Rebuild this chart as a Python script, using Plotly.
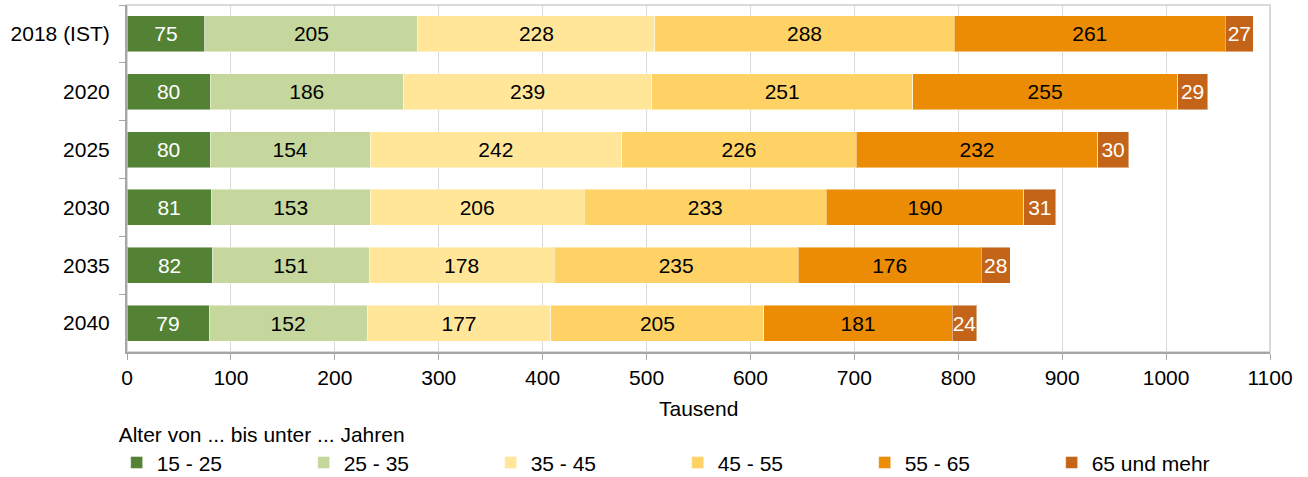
import plotly.graph_objects as go

# Erwerbsfähige Bevölkerung nach Altersgruppen (Tausend)
years = ["2018 (IST)", "2020", "2025", "2030", "2035", "2040"]
age_groups = ["15 - 25", "25 - 35", "35 - 45", "45 - 55", "55 - 65", "65 und mehr"]

age_15_25 = [75, 80, 80, 81, 82, 79]
age_25_35 = [205, 186, 154, 153, 151, 152]
age_35_45 = [228, 239, 242, 206, 178, 177]
age_45_55 = [288, 251, 226, 233, 235, 205]
age_55_65 = [261, 255, 232, 190, 176, 181]
age_65_plus = [27, 29, 30, 31, 28, 24]

series = [age_15_25, age_25_35, age_35_45, age_45_55, age_55_65, age_65_plus]
colors = ["#548235", "#C5D79D", "#FFE699", "#FFD266", "#EB8C04", "#C36418"]
label_colors = ["white", "black", "black", "black", "black", "white"]

FONT = "Arial, Liberation Sans, sans-serif"
FS = 21

fig = go.Figure()
for name, vals, col, tcol in zip(age_groups, series, colors, label_colors):
    fig.add_trace(go.Bar(
        y=years, x=vals, name=name, orientation="h",
        marker=dict(color=col, line=dict(color="rgba(255,255,255,0.45)", width=1)),
        text=vals, texttemplate="%{x}", textposition="inside",
        insidetextanchor="middle", constraintext="none", textangle=0,
        textfont=dict(color=tcol, size=FS, family=FONT),
        hoverinfo="x+name",
    ))

fig.update_layout(
    barmode="stack",
    bargap=0.38,
    width=1308, height=477,
    margin=dict(l=127, r=38, t=5, b=125, autoexpand=False),
    paper_bgcolor="white", plot_bgcolor="white",
    font=dict(family=FONT, size=FS, color="black"),
    uniformtext=dict(minsize=FS, mode="show"),
    xaxis=dict(
        range=[0, 1100], dtick=100, tick0=0,
        showgrid=True, gridcolor="#D9D9D9", gridwidth=1,
        showline=True, linecolor="#A6A6A6", linewidth=2,
        ticks="outside", ticklen=6, tickcolor="#A6A6A6", tickwidth=1,
        zeroline=False,
        tickfont=dict(size=FS),
    ),
    yaxis=dict(
        autorange="reversed",
        showline=True, linecolor="#A6A6A6", linewidth=2,
        ticks="outside", tickson="boundaries", ticklen=6, tickcolor="#A6A6A6",
        showgrid=False, ticklabelstandoff=11,
        tickfont=dict(size=FS),
    ),
    legend=dict(
        orientation="h",
        xref="container", x=0.0892, xanchor="left",
        yref="container", y=0.13, yanchor="top",
        title=dict(text="Alter von ... bis unter ... Jahren", side="top", font=dict(size=FS)),
        entrywidth=142, entrywidthmode="pixels",
        font=dict(size=FS),
        traceorder="normal",
    ),
    annotations=[dict(
        text="Tausend", xref="paper", x=0.5, xanchor="center",
        yref="paper", y=-0.1614, yanchor="middle",
        showarrow=False, font=dict(size=FS),
    )],
    shapes=[dict(
        type="rect", xref="paper", yref="paper", x0=0, x1=1, y0=0, y1=1,
        line=dict(color="#D9D9D9", width=2), layer="below",
    )],
)

fig.write_html("out.html")
